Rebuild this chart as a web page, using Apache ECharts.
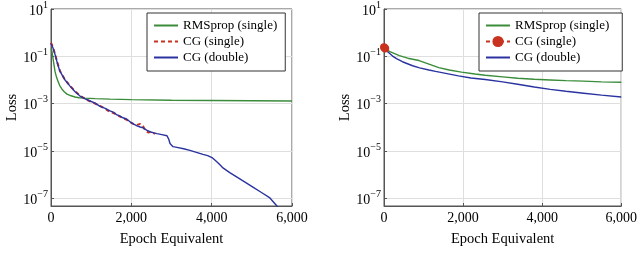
<!DOCTYPE html>
<html><head><meta charset="utf-8">
<script src="https://cdn.jsdelivr.net/npm/echarts@6/dist/echarts.min.js"></script>
<style>html,body{margin:0;padding:0;background:#fff}#c{width:640px;height:264px}</style>
</head><body><div id="c"></div>
<script>
// Loss values are stored as log10(loss); axes show 10^n.
const xTicks = [0, 2000, 4000, 6000];
const yTickExp = [-7, -5, -3, -1, 1];
const seriesNames = ['RMSprop (single)', 'CG (single)', 'CG (double)'];

// Left panel
const leftRmsEpoch = [0,25,60,100,140,174,220,274,330,398,500,597,700,846,1100,1469,2000,3000,4000,5000,6000];
const leftRmsLog = [-0.67,-0.8,-1.2,-1.64,-1.9,-2.05,-2.25,-2.39,-2.5,-2.6,-2.67,-2.72,-2.75,-2.77,-2.79,-2.81,-2.83,-2.86,-2.87,-2.88,-2.89];
const leftCgsEpoch = [0,50,100,160,224,340,473,600,722,850,971,1100,1220,1350,1469,1560,1643,1720,1792,1880,1967,2060,2141,2220,2290,2350,2420,2500,2589];
const leftCgsLog = [-0.42,-0.63,-0.9,-1.28,-1.62,-1.97,-2.25,-2.48,-2.66,-2.8,-2.9,-3.0,-3.1,-3.22,-3.36,-3.4,-3.47,-3.55,-3.62,-3.68,-3.78,-3.87,-3.9,-3.86,-3.95,-4.15,-4.22,-4.2,-4.28];
const leftCgdEpoch = [0,50,100,160,224,340,473,600,722,850,971,1100,1220,1350,1469,1560,1643,1720,1792,1880,1967,2060,2141,2220,2290,2380,2465,2560,2639,2760,2888,2930,2963,3037,3137,3300,3460,3620,3784,3900,4008,4100,4200,4282,4450,4631,4830,5027,5240,5450,5625,5700];
const leftCgdLog = [-0.46,-0.65,-0.92,-1.3,-1.64,-1.98,-2.26,-2.5,-2.68,-2.8,-2.89,-2.98,-3.12,-3.2,-3.31,-3.37,-3.48,-3.53,-3.6,-3.65,-3.77,-3.87,-3.94,-3.99,-4.02,-4.12,-4.19,-4.24,-4.27,-4.31,-4.36,-4.5,-4.69,-4.82,-4.85,-4.91,-4.98,-5.06,-5.15,-5.2,-5.28,-5.42,-5.58,-5.72,-5.92,-6.11,-6.32,-6.53,-6.76,-6.99,-7.33,-7.45];

// Right panel
const rightRmsEpoch = [0,150,389,600,888,1137,1386,1650,1960,2300,2560,3000,3380,3800,4205,4600,5050,5500,6000];
const rightRmsLog = [-0.67,-0.8,-0.97,-1.08,-1.18,-1.33,-1.48,-1.58,-1.67,-1.75,-1.8,-1.87,-1.93,-1.97,-2.0,-2.03,-2.05,-2.08,-2.1];
const rightCgsEpoch = [0, 30];
const rightCgsLog = [-0.62, -0.67];
const rightCgdEpoch = [0,100,217,316,466,723,900,1137,1303,1560,1884,2200,2560,3000,3380,3800,4205,4600,5050,5500,6000];
const rightCgdLog = [-0.67,-0.82,-0.99,-1.1,-1.23,-1.4,-1.49,-1.58,-1.64,-1.72,-1.83,-1.92,-1.98,-2.08,-2.18,-2.3,-2.4,-2.48,-2.56,-2.64,-2.72];

const pairs = (xs, ys) => xs.map((x, i) => [x, ys[i]]);
const FONT = 'Liberation Serif, DejaVu Serif, serif';
const GREEN = '#3a8c3a', RED = '#c8321e', BLUE = '#2a33a0';

function xAxis(idx) {
  return {
    type: 'value', gridIndex: idx, min: 0, max: 6000, interval: 2000,
    name: 'Epoch Equivalent', nameLocation: 'middle', nameGap: 26,
    nameTextStyle: {fontFamily: FONT, fontSize: 14.5, color: '#000'},
    axisLine: {show: true, onZero: false, lineStyle: {color: '#555', width: 1}},
    axisTick: {show: true, inside: true, length: 3, lineStyle: {color: '#555'}},
    axisLabel: {fontFamily: FONT, fontSize: 14, color: '#000', margin: 5,
      formatter: v => v.toLocaleString('en-US')},
    splitLine: {show: true, lineStyle: {color: '#dedede', width: 1}}
  };
}
function yAxis(idx) {
  return {
    type: 'value', gridIndex: idx, min: -7.33, max: 1,
    name: 'Loss', nameLocation: 'middle', nameGap: 26, nameRotate: 90,
    nameTextStyle: {fontFamily: FONT, fontSize: 14.5, color: '#000'},
    axisLine: {show: true, onZero: false, lineStyle: {color: '#555', width: 1}},
    axisTick: {show: true, inside: true, length: 3, lineStyle: {color: '#555'}, customValues: yTickExp},
    axisLabel: {margin: 3, customValues: yTickExp,
      formatter: v => '{b|10}{s|' + (v < 0 ? '\u2212' : '') + Math.abs(v) + '}',
      rich: {
        b: {fontFamily: FONT, fontSize: 14, color: '#000', lineHeight: 18, verticalAlign: 'bottom'},
        s: {fontFamily: FONT, fontSize: 10, color: '#000', lineHeight: 18, verticalAlign: 'top'}
      }},
    splitLine: {show: true, lineStyle: {color: '#dedede', width: 1}}
  };
}
function legend(left, prefix, padRight, markerIdx) {
  return {
    orient: 'vertical', left: left, top: 13,
    data: seriesNames.map((n, i) => ({
      name: prefix + n,
      itemStyle: {opacity: i === markerIdx ? 1 : 0}
    })),
    formatter: n => n.slice(prefix.length),
    itemWidth: 24, itemHeight: 14, itemGap: 3,
    padding: [6, padRight, 7, 6],
    backgroundColor: '#fff', borderColor: '#333', borderWidth: 1, borderRadius: 0,
    textStyle: {fontFamily: FONT, fontSize: 13, color: '#000', padding: [0,0,0,0]},
    selectedMode: false
  };
}
function line(name, xi, data, color, extra) {
  return Object.assign({
    type: 'line', name: name, xAxisIndex: xi, yAxisIndex: xi, data: data,
    symbol: 'none', smooth: false, clip: true, animation: false,
    lineStyle: {color: color, width: 1.4}, itemStyle: {color: color}
  }, extra || {});
}

const chart = echarts.init(document.getElementById('c'), null, {renderer: 'canvas'});
chart.setOption({
  animation: false,
  backgroundColor: '#fff',
  grid: [
    {left: 51, top: 7, width: 241, height: 199, show: true, borderColor: '#555', borderWidth: 1, backgroundColor: 'transparent'},
    {left: 384, top: 7, width: 241, height: 199, show: true, borderColor: '#555', borderWidth: 1, backgroundColor: 'transparent'}
  ],
  xAxis: [xAxis(0), xAxis(1)],
  yAxis: [yAxis(0), yAxis(1)],
  legend: [legend(147, 'L:', 8, -1), legend(479, 'R:', 13, 1)],
  series: [
    line('L:' + seriesNames[0], 0, pairs(leftRmsEpoch, leftRmsLog), GREEN),
    line('L:' + seriesNames[1], 0, pairs(leftCgsEpoch, leftCgsLog), RED, {lineStyle: {color: RED, width: 2, type: [4, 3]}}),
    line('L:' + seriesNames[2], 0, pairs(leftCgdEpoch, leftCgdLog), BLUE),
    line('R:' + seriesNames[0], 1, pairs(rightRmsEpoch, rightRmsLog), GREEN),
    line('R:' + seriesNames[1], 1, pairs(rightCgsEpoch, rightCgsLog), RED, {symbol: 'circle', symbolSize: 8, showSymbol: true, lineStyle: {color: RED, width: 2, type: [4, 3]}}),
    line('R:' + seriesNames[2], 1, pairs(rightCgdEpoch, rightCgdLog), BLUE)
  ]
});
</script>
</body></html>
